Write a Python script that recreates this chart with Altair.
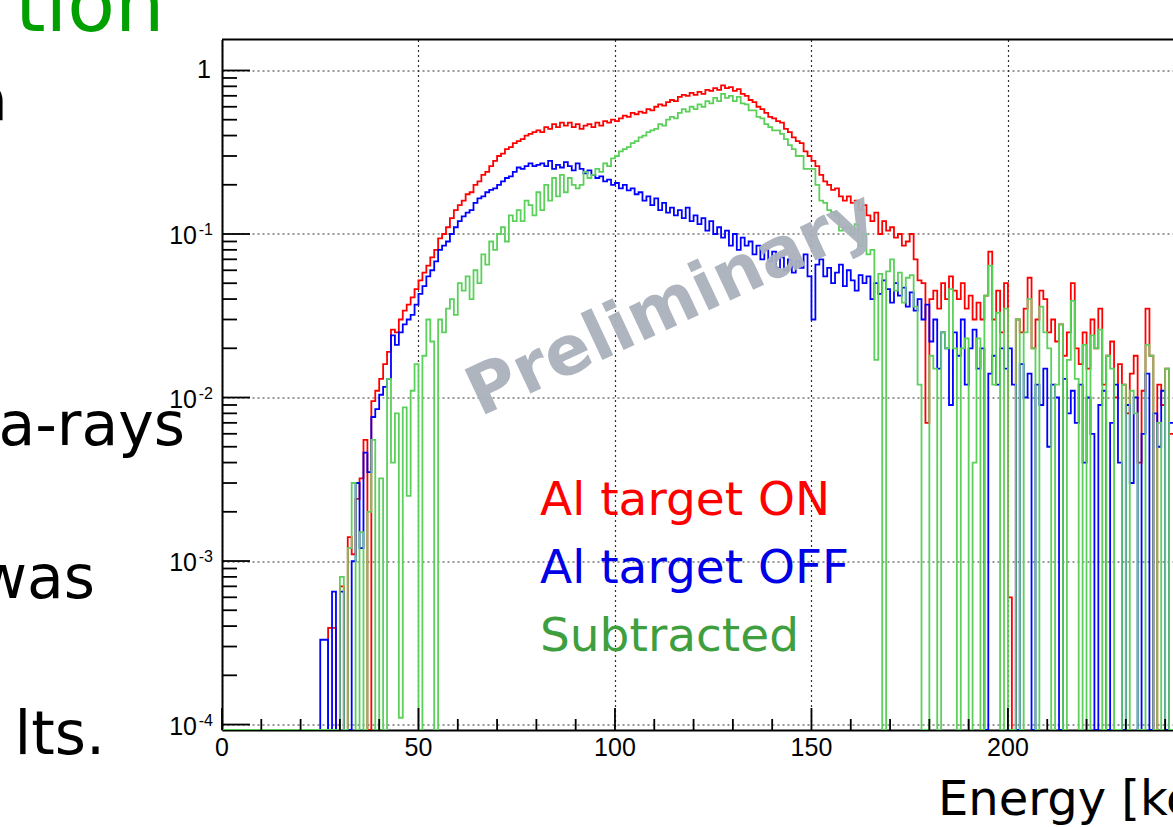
import altair as alt
import pandas as pd

# ---------------- data ----------------
FIRST_BIN = 24      # keV: lower edge of the first listed bin; bins 0-23 keV are empty
BIN_WIDTH = 1.0     # keV
X_MAX = 242         # keV visible at the right edge

al_on = [
    0, 0, 0, 3.9e-4, 3.9e-4, 0, 7e-4, 0, 1.4e-3, 1.1e-3,
    2.4e-3, 3.2e-3, 5.5e-3, 0, 9.5e-3, 0.011, 0.013, 0.016, 0.019, 0.026,
    0.025, 0.03, 0.034, 0.037, 0.041, 0.046, 0.052, 0.058, 0.064, 0.072,
    0.08, 0.094, 0.1, 0.11, 0.125, 0.14, 0.15, 0.16, 0.175, 0.18,
    0.2, 0.21, 0.23, 0.24, 0.26, 0.28, 0.3, 0.31, 0.33, 0.34,
    0.36, 0.37, 0.38, 0.4, 0.41, 0.42, 0.43, 0.42, 0.45, 0.44,
    0.47, 0.45, 0.48, 0.46, 0.48, 0.45, 0.47, 0.44, 0.46, 0.47,
    0.45, 0.48, 0.46, 0.49, 0.48, 0.5, 0.49, 0.51, 0.53, 0.52,
    0.55, 0.54, 0.56, 0.55, 0.58, 0.57, 0.6, 0.62, 0.61, 0.64,
    0.66, 0.65, 0.69, 0.71, 0.7, 0.73, 0.71, 0.74, 0.72, 0.76,
    0.75, 0.78, 0.76, 0.81, 0.78, 0.79, 0.75, 0.77, 0.72, 0.7,
    0.66, 0.64, 0.6, 0.58, 0.55, 0.52, 0.51, 0.49, 0.48, 0.44,
    0.42, 0.39, 0.37, 0.36, 0.32, 0.3, 0.28, 0.26, 0.23, 0.21,
    0.2, 0.186, 0.19, 0.17, 0.16, 0.17, 0.155, 0.16, 0.14, 0.15,
    0.13, 0.12, 0.135, 0.1, 0.12, 0.105, 0.11, 0.095, 0.1, 0.085,
    0.09, 0.1, 0.07, 0.052, 0.05, 0.007, 0.04, 0.045, 0.035, 0.05,
    0.04, 0.055, 0.045, 0.04, 0.05, 0.035, 0.042, 0.03, 0.038, 0.03,
    0.042, 0.078, 0.03, 0.045, 0.025, 0.05, 6e-4, 0, 0.03, 0.025,
    0.035, 0.054, 0.02, 0.03, 0.045, 0.04, 0.025, 0.03, 0.022, 0.028,
    0.018, 0.025, 0.05, 0.02, 0.016, 0.025, 0.015, 0.03, 0.02, 0.035,
    0.012, 0.018, 0.022, 0.01, 0.016, 0.012, 0.008, 0.014, 0.018, 0.004,
    0.011, 0.035, 0.018, 0, 0.012, 0.009, 0.015, 0.006,
]

al_off = [
    0, 3.3e-4, 3.3e-4, 0, 6.5e-4, 0, 6.5e-4, 0, 0, 1.0e-3,
    3.0e-3, 1.2e-3, 4.6e-3, 3.5e-3, 7.6e-3, 8.5e-3, 0.0104, 0.0116, 0.013, 0.024,
    0.021, 0.025, 0.028, 0.03, 0.032, 0.037, 0.043, 0.048, 0.055, 0.06,
    0.068, 0.08, 0.085, 0.09, 0.1, 0.11, 0.12, 0.128, 0.135, 0.14,
    0.155, 0.165, 0.17, 0.18, 0.186, 0.19, 0.2, 0.21, 0.22, 0.225,
    0.24, 0.255, 0.25, 0.26, 0.27, 0.26, 0.265, 0.27, 0.26, 0.28,
    0.25, 0.265, 0.255, 0.275, 0.26, 0.245, 0.27, 0.25, 0.235, 0.245,
    0.23, 0.22, 0.225, 0.21, 0.215, 0.2, 0.205, 0.19, 0.2, 0.185,
    0.19, 0.175, 0.18, 0.16, 0.17, 0.15, 0.165, 0.14, 0.155, 0.135,
    0.145, 0.13, 0.14, 0.125, 0.145, 0.12, 0.13, 0.115, 0.125, 0.105,
    0.12, 0.1, 0.11, 0.095, 0.105, 0.085, 0.1, 0.08, 0.095, 0.085,
    0.09, 0.075, 0.085, 0.07, 0.08, 0.068, 0.078, 0.062, 0.072, 0.06,
    0.07, 0.058, 0.068, 0.062, 0.075, 0.055, 0.03, 0.065, 0.07, 0.055,
    0.062, 0.05, 0.058, 0.065, 0.048, 0.06, 0.052, 0.045, 0.056, 0.05,
    0.055, 0.04, 0.05, 0.043, 0.052, 0.046, 0.038, 0.05, 0.042, 0.047,
    0.036, 0.044, 0.034, 0.04, 0.03, 0.037, 0.022, 0.03, 0.015, 0.025,
    0.02, 0.009, 0.025, 0.018, 0.03, 0.012, 0.02, 0.026, 0.015, 0.02,
    0, 0.014, 0.018, 0.012, 0.02, 0.015, 0.02, 0.012, 0, 0.016,
    0.01, 0.014, 0, 0.012, 0.009, 0.015, 0.005, 0.012, 0.01, 0,
    0.013, 0.008, 0.011, 0.007, 0.012, 0.004, 0.01, 0.006, 0, 0.009,
    0.011, 0, 0.007, 0.012, 0.004, 0, 0.009, 0.003, 0.01, 0,
    0.006, 0.014, 0, 0.008, 0.005, 0.011, 0, 0.007,
]

subtracted = [
    0, 0, 0, 0, 0, 0, 8e-4, 0, 1.2e-3, 3e-3,
    0, 1.5e-3, 0, 2e-3, 5.5e-3, 0, 3.2e-3, 0, 0.013, 4e-3,
    0.008, 1.1e-4, 0.0087, 2.5e-3, 0.011, 0.016, 0, 0.018, 0.03, 0.022,
    0, 0.03, 0.025, 0.035, 0.04, 0.032, 0.05, 0.045, 0.055, 0.04,
    0.06, 0.05, 0.075, 0.065, 0.09, 0.08, 0.1, 0.11, 0.09, 0.13,
    0.12, 0.14, 0.12, 0.16, 0.15, 0.13, 0.18, 0.14, 0.2, 0.16,
    0.22, 0.17, 0.23, 0.18, 0.22, 0.2, 0.19, 0.2, 0.24, 0.22,
    0.23, 0.25, 0.24, 0.27, 0.26, 0.29, 0.3, 0.32, 0.33, 0.34,
    0.36, 0.37, 0.39, 0.4, 0.42, 0.43, 0.44, 0.47, 0.46, 0.5,
    0.52, 0.51, 0.55, 0.58, 0.56, 0.6, 0.58, 0.62, 0.6, 0.65,
    0.63, 0.68, 0.65, 0.72, 0.68, 0.7, 0.65, 0.69, 0.63, 0.62,
    0.57, 0.57, 0.52, 0.51, 0.47, 0.45, 0.43, 0.43, 0.41, 0.38,
    0.35, 0.33, 0.3, 0.3, 0.25, 0.25, 0.25, 0.2, 0.16, 0.155,
    0.14, 0.136, 0.13, 0.105, 0.11, 0.11, 0.1, 0.115, 0.084, 0.1,
    0.075, 0.08, 0.017, 0.057, 0, 0.059, 0.07, 0.045, 0.058, 0.038,
    0.054, 0.056, 0.036, 0.012, 0, 0, 0.018, 0.015, 0, 0.025,
    0.02, 0.046, 0.02, 0, 0.02, 0.023, 0, 0.004, 0.023, 0,
    0.042, 0.064, 0.012, 0.033, 0, 0.035, 0, 0, 0.03, 0,
    0.025, 0.04, 0.02, 0, 0.036, 0.025, 0.02, 0, 0.012, 0.028,
    0, 0.017, 0.039, 0.013, 0, 0.021, 0, 0.024, 0.02, 0.026,
    0, 0.018, 0.015, 0, 0, 0.012, 0, 0.011, 0.008, 0,
    0, 0.021, 0.018, 0, 0.007, 0, 0.015, 0,
]

series_names = ["Al target ON", "Al target OFF", "Subtracted"]
series_colors = ["#ff0000", "#0000ff", "#5bd05b"]
legend_colors = ["#ff0000", "#0000e6", "#3f9f3f"]

x_major = [0, 50, 100, 150, 200]
x_major_labels = ["0", "50", "100", "150", "200"]
x_minor = [10, 20, 30, 40, 60, 70, 80, 90, 110, 120, 130, 140, 160, 170, 180, 190, 210, 220, 230, 240]
y_decades = [1e-4, 1e-3, 1e-2, 1e-1, 1.0]
y_base_labels = ["10", "10", "10", "10", "1"]
y_exp_labels = ["-4", "-3", "-2", "-1", ""]
y_minor = [m * 10.0 ** e for e in range(-4, 0) for m in range(2, 10)]

# ---------------- layout ----------------
W, H = 951, 690.5
Y_MIN, Y_MAX = 9.26e-5, 1.547

xs = alt.Scale(domain=[0, X_MAX], nice=False, zero=False)
ys = alt.Scale(type="log", domain=[Y_MIN, Y_MAX], nice=False, clamp=True)

x_axis = alt.Axis(values=x_major, grid=True, gridDash=[2, 3], gridColor="#333333",
                  gridWidth=1.2, ticks=False, labels=False, domain=True,
                  domainColor="black", domainWidth=2, title=None)
y_axis = alt.Axis(values=y_decades, grid=True, gridDash=[2, 3], gridColor="#333333",
                  gridWidth=1.2, ticks=False, labels=False, domain=True,
                  domainColor="black", domainWidth=2, title=None)


def X(field="E"):
    return alt.X(f"{field}:Q", scale=xs, axis=x_axis)


def Y(field="v"):
    return alt.Y(f"{field}:Q", scale=ys, axis=y_axis)


rows = []
for name, vals in zip(series_names, [al_on, al_off, subtracted]):
    full = [0.0] * FIRST_BIN + list(vals)
    for i, v in enumerate(full):
        rows.append({"E": i * BIN_WIDTH, "v": v, "s": name})
    rows.append({"E": len(full) * BIN_WIDTH, "v": full[-1], "s": name})
hist_df = pd.DataFrame(rows)

layers = []
for name, col in zip(series_names, series_colors):
    layers.append(
        alt.Chart(hist_df)
        .transform_filter(alt.datum.s == name)
        .transform_calculate(vp="max(datum.v, 1e-7)")
        .mark_line(interpolate="step-after", color=col, strokeWidth=1.8, clip=True)
        .encode(x=X(), y=Y("vp"), order="E:Q")
    )

# ticks (inward, ROOT style)
xt_major = pd.DataFrame({"E": x_major})
xt_minor = pd.DataFrame({"E": x_minor})
yt_major = pd.DataFrame({"v": y_decades})
yt_minor = pd.DataFrame({"v": y_minor})

layers.append(alt.Chart(xt_major).mark_rule(color="black", strokeWidth=1.8)
              .encode(x=X(), y=alt.value(H), y2=alt.value(H - 22)))
layers.append(alt.Chart(xt_minor).mark_rule(color="black", strokeWidth=1.8)
              .encode(x=X(), y=alt.value(H), y2=alt.value(H - 11)))
layers.append(alt.Chart(yt_major).mark_rule(color="black", strokeWidth=1.8)
              .encode(y=Y(), x=alt.value(0), x2=alt.value(28)))
layers.append(alt.Chart(yt_minor).mark_rule(color="black", strokeWidth=1.8)
              .encode(y=Y(), x=alt.value(0), x2=alt.value(15)))

# top frame line
layers.append(alt.Chart(alt.Data(values=[{"a": 0}])).mark_rule(color="black", strokeWidth=2)
              .encode(x=alt.value(0), x2=alt.value(W), y=alt.value(0)))

# axis labels
ylab_df = pd.DataFrame({"v": y_decades, "base": y_base_labels, "exp": y_exp_labels})
layers.append(alt.Chart(ylab_df).transform_filter("datum.exp != ''")
              .mark_text(align="right", baseline="middle", fontSize=25, font="Liberation Sans", dy=2)
              .encode(y=Y(), x=alt.value(-25), text="base:N"))
layers.append(alt.Chart(ylab_df).transform_filter("datum.exp != ''")
              .mark_text(align="right", baseline="middle", fontSize=16, font="Liberation Sans", dy=-4)
              .encode(y=Y(), x=alt.value(-9), text="exp:N"))
layers.append(alt.Chart(ylab_df).transform_filter("datum.exp == ''")
              .mark_text(align="right", baseline="middle", fontSize=25, font="Liberation Sans", dy=0)
              .encode(y=Y(), x=alt.value(-11), text="base:N"))

xlab_df = pd.DataFrame({"E": x_major, "label": x_major_labels})
layers.append(alt.Chart(xlab_df)
              .mark_text(align="center", baseline="middle", fontSize=25, font="Liberation Sans")
              .encode(x=X(), y=alt.value(H + 18), text="label:N"))


def label(text, x, y, size, color, align="left", angle=0, weight="normal",
          font="DejaVu Sans", opacity=1.0, baseline="alphabetic"):
    return (alt.Chart(alt.Data(values=[{"t": text}]))
            .mark_text(align=align, baseline=baseline, fontSize=size, font=font,
                       color=color, angle=angle, fontWeight=weight, opacity=opacity)
            .encode(x=alt.value(x), y=alt.value(y), text="t:N"))


# legend inside the frame
layers.append(label(series_names[0], 318, 475.5, 47, legend_colors[0]))
layers.append(label(series_names[1], 318, 543.5, 47, legend_colors[1]))
layers.append(label(series_names[2], 318, 611.5, 47, legend_colors[2]))

# watermark
layers.append(label("Preliminary", 450, 266, 68, "#aab2bc", align="center", angle=335,
                    weight="bold", opacity=0.95, baseline="middle"))

# axis title (cut by the right edge of the slide)
layers.append(label("Energy [keV]", 716, 775.5, 48, "black"))

# fragments of the slide text at the left
layers.append(label("tion", -207, -8.5, 78, "#00a000"))
layers.append(label("a", -214, 80.5, 60, "black", align="right"))
layers.append(label("a-rays", -37, 405.5, 60, "black", align="right"))
layers.append(label("was", -127, 558.5, 60, "black", align="right"))
layers.append(label("lts.", -117, 714.5, 60, "black", align="right"))

chart = (
    alt.layer(*layers)
    .properties(width=W, height=H,
                padding={"left": 222, "top": 39.5, "right": 0, "bottom": 97},
                autosize=alt.AutoSizeParams(type="none"),
                background="white")
    .configure_view(stroke=None)
)

chart.save("out.html", embed_options={"renderer": "svg", "actions": False})
